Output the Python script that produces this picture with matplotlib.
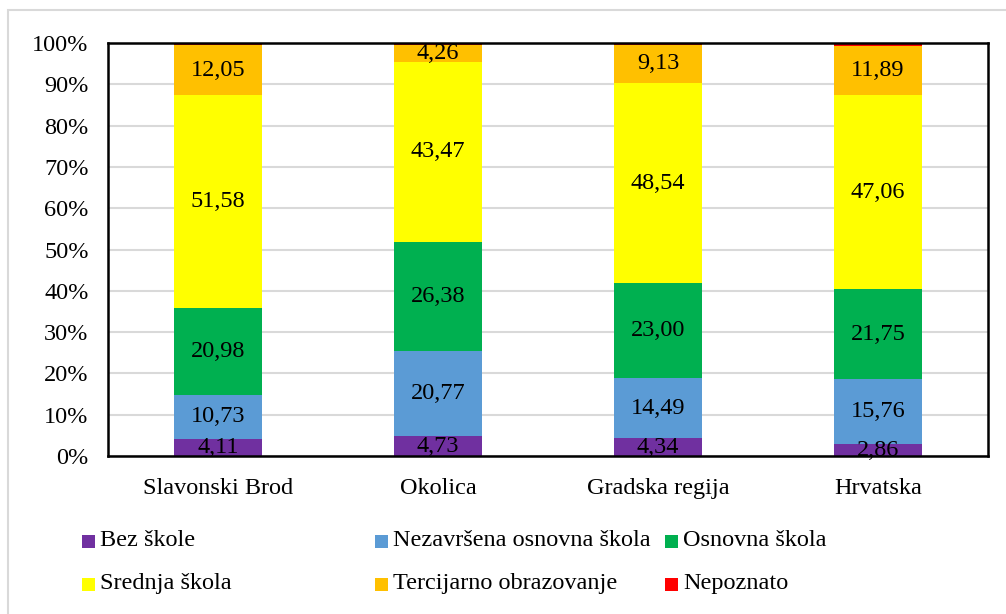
import matplotlib
matplotlib.use("Agg")
import matplotlib.pyplot as plt
from matplotlib.patches import Rectangle
import numpy as np

categories = ["Slavonski Brod", "Okolica", "Gradska regija", "Hrvatska"]
series_names = ["Bez škole", "Nezavršena osnovna škola", "Osnovna škola",
                "Srednja škola", "Tercijarno obrazovanje", "Nepoznato"]
bez_skole = [4.11, 4.73, 4.34, 2.86]
nezavrsena = [10.73, 20.77, 14.49, 15.76]
osnovna = [20.98, 26.38, 23.00, 21.75]
srednja = [51.58, 43.47, 48.54, 47.06]
tercijarno = [12.05, 4.26, 9.13, 11.89]
nepoznato = [0.55, 0.39, 0.50, 0.68]
colors = ["#7030A0", "#5B9BD5", "#00B050", "#FFFF00", "#FFC000", "#FF0000"]
yticks = list(range(0, 101, 10))

series = [bez_skole, nezavrsena, osnovna, srednja, tercijarno, nepoznato]

plt.rcParams['font.family'] = ['Liberation Serif', 'DejaVu Serif']
FS = 17.5

fig = plt.figure(figsize=(10.06, 6.14), dpi=100)
W, H = 1006, 614
ax = fig.add_axes([108 / W, 1 - 456 / H, (988 - 108) / W, (456 - 43) / H])

# outer chart border
fig.patches.append(Rectangle((8 / W, -0.1), 1.2, 1 - 10 / H + 0.1,
                             transform=fig.transFigure, fill=False,
                             edgecolor="#D9D9D9", linewidth=1.5))

x = np.arange(len(categories))
bottom = np.zeros(len(categories))
for name, vals, c in zip(series_names, series, colors):
    vals = np.array(vals)
    ax.bar(x, vals, 0.4, bottom=bottom, color=c, label=name, zorder=2)
    if name != "Nepoznato":
        for xi, b, v in zip(x, bottom, vals):
            ax.text(xi, b + v / 2, f"{v:.2f}".replace(".", ","), ha="center",
                    va="center", fontsize=FS, color="black", zorder=3,
                    clip_on=False)
    bottom += vals

ax.set_xlim(-0.5, len(categories) - 0.5)
ax.set_ylim(0, 100)
ax.set_yticks(yticks)
ax.set_yticklabels([f"{t}%" for t in yticks])
ax.set_xticks(x)
ax.set_xticklabels(categories)
ax.tick_params(axis="both", length=0, labelsize=FS, colors="black")
ax.tick_params(axis="y", pad=14)
ax.tick_params(axis="x", pad=16)
ax.yaxis.grid(True, color="#D9D9D9", linewidth=1.5, zorder=0)
ax.set_axisbelow(True)
for s in ax.spines.values():
    s.set_color("black")
    s.set_linewidth(1.8)
    s.set_zorder(5)

# legend (row-major, 3 columns)
col_x = [82, 375, 665]
row_y = [541, 584]
for i, (name, c) in enumerate(zip(series_names, colors)):
    r, k = divmod(i, 3)
    x0, y0 = col_x[k], row_y[r]
    fig.patches.append(Rectangle((x0 / W, 1 - (y0 + 7) / H), 13 / W, 13 / H,
                                 transform=fig.transFigure, facecolor=c,
                                 edgecolor="none"))
    fig.text((x0 + 18) / W, 1 - y0 / H, name, ha="left", va="center",
             fontsize=FS, color="black")

fig.savefig("out.png", dpi=100, facecolor="white")
